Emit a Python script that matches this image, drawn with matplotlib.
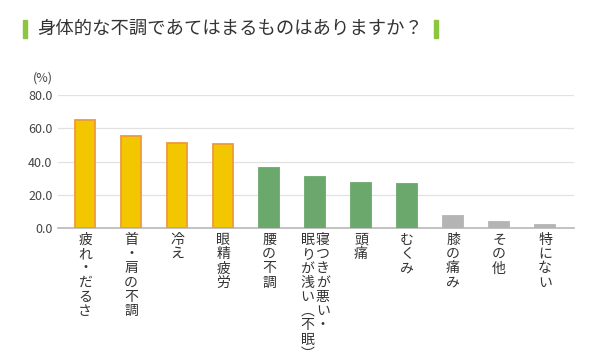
import matplotlib
matplotlib.use("Agg")
import matplotlib.pyplot as plt
import matplotlib.transforms as mtransforms

plt.rcParams['font.family'] = ['Noto Sans CJK JP', 'DejaVu Sans']

# データ
labels = ["疲れ・だるさ", "首・肩の不調", "冷え", "眼精疲労", "腰の不調",
          ["寝つきが悪い・", "眠りが浅い︵不眠︶"], "頭痛", "むくみ", "膝の痛み", "その他", "特にない"]
values = [65.1, 55.5, 51.1, 50.3, 35.9, 30.5, 27.3, 26.3, 7.2, 3.4, 1.8]
groups = ["y", "y", "y", "y", "g", "g", "g", "g", "k", "k", "k"]
yticks = [0, 20, 40, 60, 80]

face = {"y": "#f2c700", "g": "#6aa86c", "k": "#b4b4b4"}
edge = {"y": "#ef9a3c", "g": "#6aa86c", "k": "#b4b4b4"}

fig = plt.figure(figsize=(6.15, 3.55), dpi=100)
ax = fig.add_axes([58/615, 1-228/355, (574-58)/615, (228-95)/355])

x = list(range(len(values)))
ax.bar(x, values, width=0.44,
       color=[face[g] for g in groups],
       edgecolor=[edge[g] for g in groups], linewidth=1.3, zorder=3)

ax.set_xlim(-0.59, 10.63)
ax.set_ylim(0, 80)
ax.set_yticks(yticks)
ax.set_yticklabels([f"{v:.1f}" for v in yticks], fontsize=9, color="#444444")
ax.set_xticks([])
ax.tick_params(axis="y", length=0, pad=4)
for v in yticks[1:]:
    ax.axhline(v, color="#e2e2e2", linewidth=0.9, zorder=1)
for s in ["top", "right", "left"]:
    ax.spines[s].set_visible(False)
ax.spines["bottom"].set_color("#b8b8b8")
ax.spines["bottom"].set_linewidth(1.2)

fig.text(33/615, 1-78/355, "(%)", fontsize=9, color="#444444", va="center")

# 縦書きラベル
trans = mtransforms.blended_transform_factory(ax.transData, fig.transFigure)
y0 = 1 - 233/355
for i, lab in enumerate(labels):
    cols = lab if isinstance(lab, list) else [lab]
    n = len(cols)
    for j, c in enumerate(cols):
        dx = (n - 1) / 2 * 0.33 - j * 0.33
        ax.text(i + dx, y0, "\n".join(c), transform=trans, ha="center", va="top",
                fontsize=10, color="#333333", linespacing=1.02)

# タイトル
fig.patches.append(plt.Rectangle((23/615, 1-38/355), 4/615, 18/355,
                                 transform=fig.transFigure, color="#8cc63e"))
fig.patches.append(plt.Rectangle((434/615, 1-38/355), 4/615, 18/355,
                                 transform=fig.transFigure, color="#8cc63e"))
fig.text(37/615, 1-29/355, "身体的な不調であてはまるものはありますか？",
         fontsize=13.2, color="#333333", va="center")

fig.savefig("out.png", dpi=100, facecolor="white")
